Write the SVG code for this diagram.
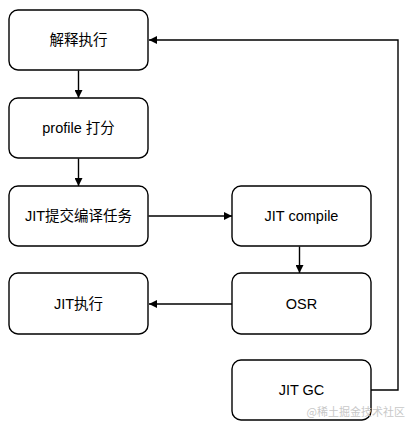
<svg xmlns="http://www.w3.org/2000/svg" width="418" height="429" viewBox="0 0 418 429">
<style>
.box{fill:#fff;stroke:#000;stroke-width:1.4}
.t{font-family:"Liberation Sans","Noto Sans CJK SC",sans-serif;font-size:14.5px;fill:#000;text-anchor:middle;dominant-baseline:central}
.c{fill:none;stroke:#000;stroke-width:1.4}
.wm{font-family:"Noto Sans CJK SC",sans-serif;font-size:11px;fill:#c8c8c8;text-anchor:end}
</style>
<defs>
<marker id="ah" viewBox="0 0 10 10" refX="10" refY="5" markerWidth="8" markerHeight="8" markerUnits="userSpaceOnUse" orient="auto">
<path d="M0,0 L10,5 L0,10 z" fill="#000"/>
</marker>
</defs>
<rect width="418" height="429" fill="#fff"/>
<g id="connectors">
<line class="c" x1="78.5" y1="70.5" x2="78.5" y2="98" marker-end="url(#ah)"/>
<line class="c" x1="78.5" y1="158.5" x2="78.5" y2="186" marker-end="url(#ah)"/>
<line class="c" x1="148.5" y1="216" x2="232" y2="216" marker-end="url(#ah)"/>
<line class="c" x1="299.5" y1="246.5" x2="299.5" y2="273" marker-end="url(#ah)"/>
<line class="c" x1="232" y1="304" x2="149" y2="304" marker-end="url(#ah)"/>
<polyline class="c" points="371,390 398,390 398,40 149,40" marker-end="url(#ah)"/>
</g>
<g id="n1"><rect class="box" x="9" y="10" width="139" height="60" rx="9"/><text class="t" x="78.5" y="40">解释执行</text></g>
<g id="n2"><rect class="box" x="9" y="98" width="139" height="60" rx="9"/><text class="t" x="78.5" y="128">profile 打分</text></g>
<g id="n3"><rect class="box" x="9" y="186" width="139" height="60" rx="9"/><text class="t" x="78.5" y="216">JIT提交编译任务</text></g>
<g id="n4"><rect class="box" x="232" y="186" width="139" height="60" rx="9"/><text class="t" x="301.5" y="216">JIT compile</text></g>
<g id="n5"><rect class="box" x="232" y="273" width="139" height="61" rx="9"/><text class="t" x="301.5" y="304">OSR</text></g>
<g id="n6"><rect class="box" x="9" y="273" width="139" height="61" rx="9"/><text class="t" x="78.5" y="304">JIT执行</text></g>
<g id="n7"><rect class="box" x="232" y="360" width="139" height="60" rx="9"/><text class="t" x="301.5" y="390">JIT GC</text></g>
<text class="wm" x="405" y="416">@稀土掘金技术社区</text>
</svg>
